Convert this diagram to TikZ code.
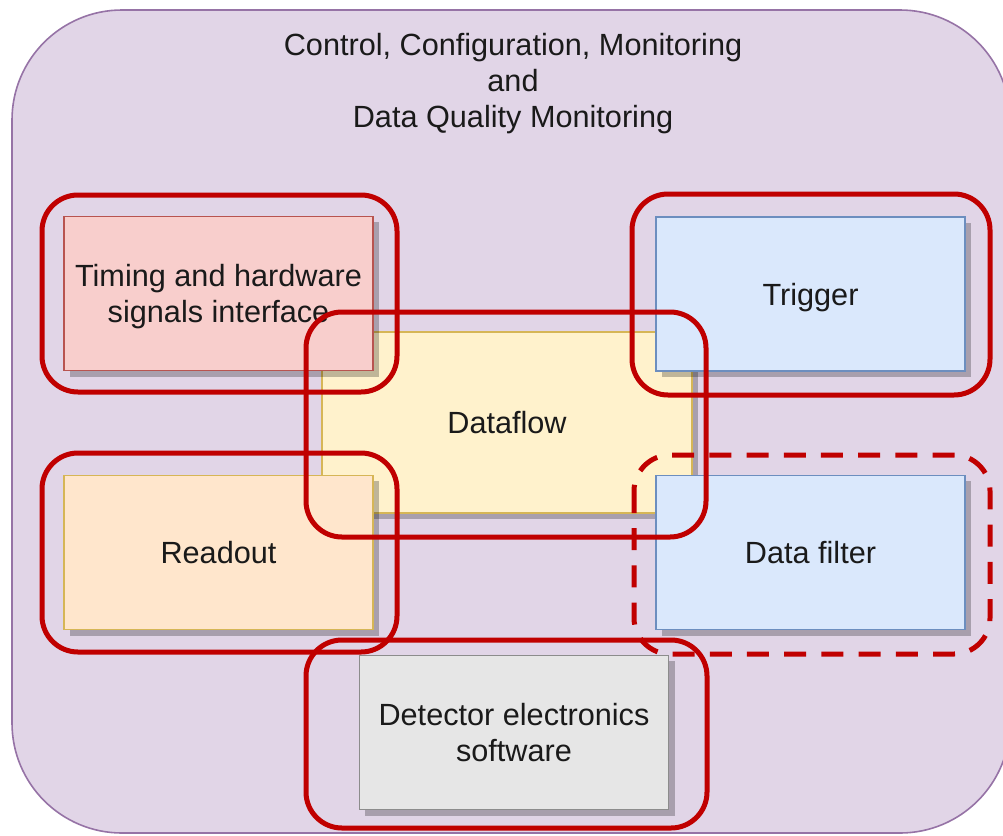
\documentclass[tikz,border=0pt]{standalone}
\usepackage{fontspec}
\setmainfont{Liberation Sans}
\usepackage{tikz}
\usetikzlibrary{shadows}

\definecolor{ccmfill}{HTML}{E1D5E7}
\definecolor{ccmline}{HTML}{9673A6}
\definecolor{redfill}{HTML}{F8CECC}
\definecolor{redline}{HTML}{B85450}
\definecolor{yellowfill}{HTML}{FFF2CC}
\definecolor{yellowline}{HTML}{D6B656}
\definecolor{orangefill}{HTML}{FFE6CC}
\definecolor{orangeline}{HTML}{D6B656}
\definecolor{bluefill}{HTML}{DAE8FC}
\definecolor{blueline}{HTML}{6C8EBF}
\definecolor{greyfill}{HTML}{E6E6E6}
\definecolor{greyline}{HTML}{8C8C8C}
\definecolor{framered}{HTML}{C00000}
\definecolor{labelgrey}{HTML}{1A1A1A}
\newcommand{\blockfont}{\fontsize{21.8}{25.6}\selectfont}

\tikzset{
    block/.style={draw, line width=0.035cm, minimum width=7.725cm,
        minimum height=3.85cm, align=center, text=labelgrey, font=\blockfont,
        text depth=0pt,
        drop shadow={shadow xshift=0.15cm, shadow yshift=-0.15cm,
            opacity=0.25, fill=black}},
    redframe/.style={draw=framered, line width=0.125cm, rounded corners=0.9cm},
}

\begin{document}
\begin{tikzpicture}[x=0.025cm, y=-0.025cm]

    \useasboundingbox (0,0) rectangle (1003,835);
    \clip (0,0) rectangle (1003,835);

    % outer box
    \draw[fill=ccmfill, draw=ccmline, line width=0.04cm, rounded corners=2.75cm]
        (12,10) rectangle (1010,833);
    \node[align=center, text=labelgrey, font=\blockfont] (ccm) at (513,84)
        {Control, Configuration, Monitoring\\and\\Data Quality Monitoring};

    % blocks
    \node[block, fill=yellowfill, draw=yellowline, minimum width=9.25cm,
        minimum height=4.525cm] (dataflow) at (507,422.5) {Dataflow};
    \node[block, fill=redfill, draw=redline] (timing) at (218.5,293.5)
        {Timing and hardware\\signals interface};
    \node[block, fill=bluefill, draw=blueline] (trigger) at (810.5,294) {Trigger};
    \node[block, fill=orangefill, draw=orangeline] (readout) at (218.5,552.5) {Readout};
    \node[block, fill=bluefill, draw=blueline] (filter) at (810.5,552.5) {Data filter};
    \node[block, fill=greyfill, draw=greyline] (detector) at (514,732.5)
        {Detector electronics\\software};

    % red frames
    \draw[redframe] (42,195) rectangle (397,392);
    \draw[redframe] (632,194) rectangle (990,395);
    \draw[redframe] (306,312) rectangle (706,537);
    \draw[redframe] (42,453) rectangle (397,652);
    \draw[redframe] (306,640) rectangle (707,828);
    \draw[redframe, dash pattern=on 0.55cm off 0.38cm] (634,455) rectangle (990,654);

\end{tikzpicture}
\end{document}
